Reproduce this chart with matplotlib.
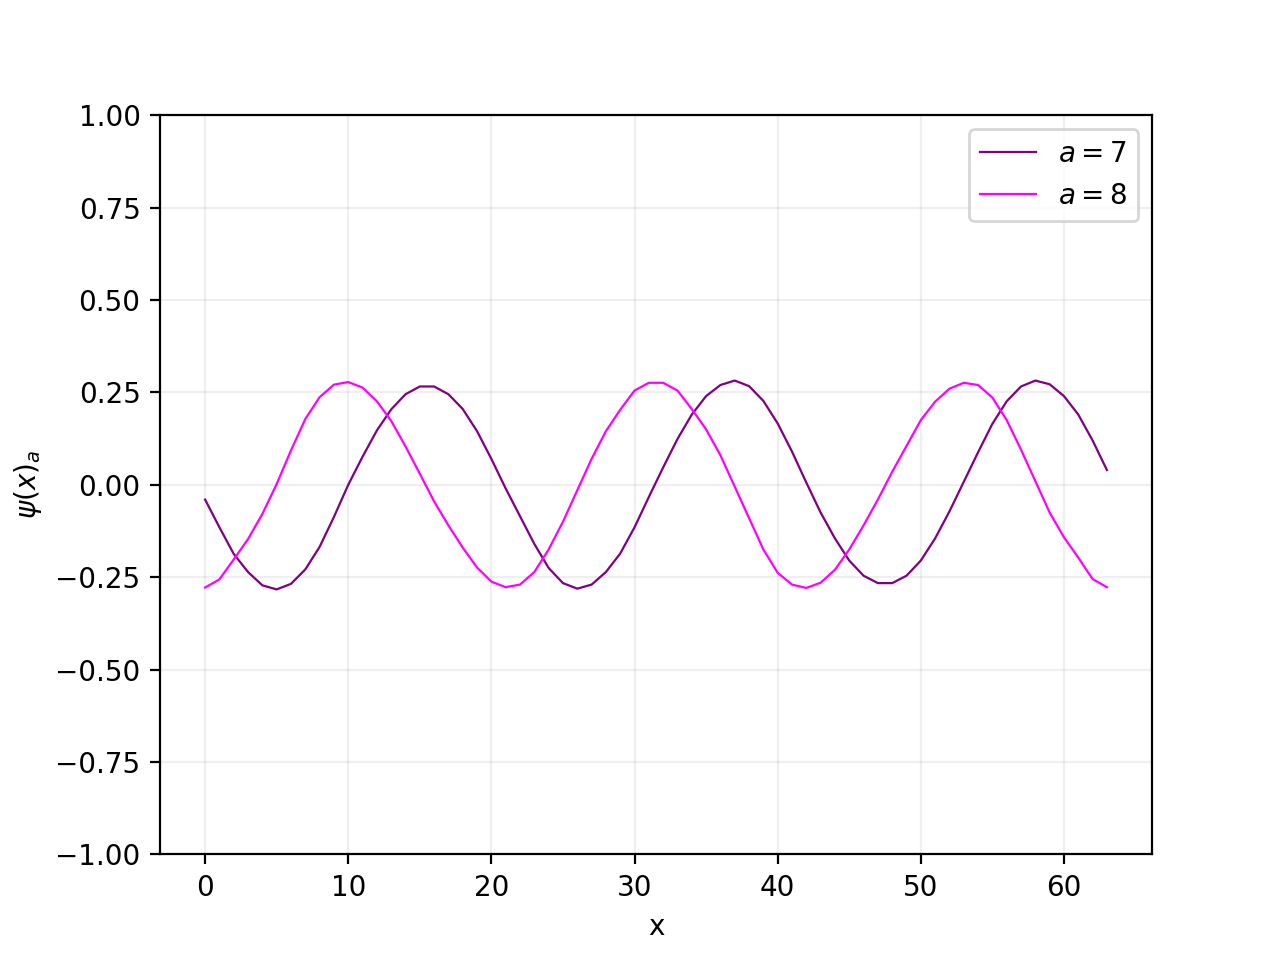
import matplotlib

matplotlib.use("Agg")
import matplotlib.pyplot as plt  # noqa: E402

# psi values, x = 0..63
x = list(range(64))

psi_a7 = [
    -0.04, -0.115, -0.187, -0.236, -0.272, -0.283, -0.268, -0.229, -0.168, -0.087,
    0.0, 0.076, 0.147, 0.204, 0.245, 0.266, 0.266, 0.245, 0.205, 0.145,
    0.07, -0.01, -0.085, -0.16, -0.225, -0.266, -0.281, -0.27, -0.236, -0.186,
    -0.115, -0.033, 0.047, 0.124, 0.19, 0.24, 0.27, 0.282, 0.267, 0.227,
    0.166, 0.09, 0.006, -0.075, -0.145, -0.205, -0.246, -0.266, -0.266, -0.246,
    -0.205, -0.145, -0.072, 0.008, 0.088, 0.165, 0.226, 0.266, 0.282, 0.272,
    0.24, 0.19, 0.12, 0.04,
]

psi_a8 = [
    -0.278, -0.256, -0.202, -0.147, -0.079, 0.002, 0.093, 0.178, 0.237, 0.271,
    0.278, 0.263, 0.226, 0.173, 0.104, 0.03, -0.045, -0.11, -0.17, -0.224,
    -0.262, -0.277, -0.27, -0.236, -0.175, -0.1, -0.015, 0.07, 0.145, 0.203,
    0.255, 0.276, 0.276, 0.255, 0.205, 0.15, 0.08, -0.005, -0.09, -0.175,
    -0.238, -0.27, -0.279, -0.265, -0.23, -0.175, -0.11, -0.04, 0.035, 0.105,
    0.175, 0.225, 0.26, 0.276, 0.27, 0.236, 0.175, 0.095, 0.01, -0.075,
    -0.142, -0.197, -0.255, -0.277,
]

fig, ax = plt.subplots(figsize=(6.4, 4.8), dpi=200)
ax.plot(x, psi_a7, color="purple", linewidth=0.8, label="$a = 7$")
ax.plot(x, psi_a8, color="magenta", linewidth=0.8, label="$a = 8$")
ax.set_ylim(-1, 1)
ax.set_xlabel("x")
ax.set_ylabel(r"$\psi(x)_a$")
ax.grid(True, alpha=0.2)
ax.legend(loc="upper right")
fig.savefig("out.png", dpi=200)
